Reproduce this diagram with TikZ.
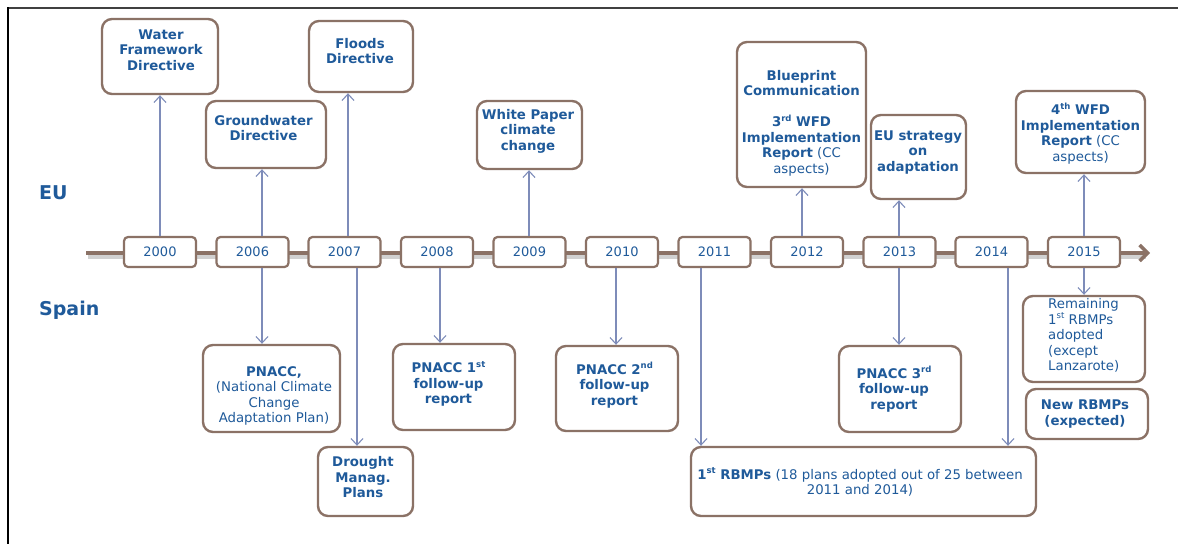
\documentclass[tikz,border=0pt]{standalone}
\usepackage{fontspec}
\setmainfont{DejaVu Sans}
\usetikzlibrary{arrows.meta}
\definecolor{txtblue}{HTML}{1F5A9A}
\definecolor{boxbrown}{HTML}{8B7266}
\definecolor{connblue}{HTML}{7E8CB9}
\newcommand\myup[1]{\raisebox{0.42em}{\fontsize{8.5}{8.5}\selectfont #1}}
\begin{document}
\begin{tikzpicture}[x=1pt,y=-1pt,
  evbox/.style={draw=boxbrown, line width=2.4pt, rounded corners=10pt, fill=white, inner sep=0pt},
  yrbox/.style={draw=boxbrown, line width=2.2pt, rounded corners=4pt, fill=white, minimum width=72pt, minimum height=30pt, inner sep=0pt, text=txtblue, font=\fontsize{13}{15.5}\selectfont},
  evtext/.style={text=txtblue, align=center, inner sep=0pt, font=\fontsize{13.3}{15.5}\selectfont},
  evbold/.style={evtext, font=\fontsize{13.3}{15.5}\selectfont\bfseries},
  side/.style={text=txtblue, inner sep=0pt, anchor=base west, font=\fontsize{19}{19}\selectfont\bfseries},
  conn/.style={draw=connblue, line width=1.1pt, -{Straight Barb[length=6.5pt,width=12pt]}},
  ]
\useasboundingbox (0,0) rectangle (1178,544);
% frame
\draw[line width=2pt, black!75] (7,7.5) -- (1178,7.5);
\draw[line width=2pt, black] (7.5,7) -- (7.5,544);

% timeline
\coordinate (tl0) at (86,253);
\coordinate (tl1) at (1150,253);
\coordinate (sh0) at (88,257);
\coordinate (sh1) at (1146,257);
\draw[line width=4pt, black!18] (sh0) -- (sh1);
\draw[line width=3.5pt, boxbrown, -{Straight Barb[length=8pt,width=16pt]}] (tl0) -- (tl1);

% side labels
\node[side] (eu) at (39,199) {EU};
\node[side] (spain) at (39,315) {Spain};

% event boxes (top)
\node[evbox, minimum width=116pt, minimum height=75pt] (wfd) at (160,56.5) {};
\node[evbold] (wfdt) at (161,50) {Water\\Framework\\Directive};
\node[evbox, minimum width=120pt, minimum height=67pt] (gw) at (266,134.5) {};
\node[evbold] (gwt) at (263.5,128) {Groundwater\\Directive};
\node[evbox, minimum width=104pt, minimum height=71pt] (fl) at (361,56.5) {};
\node[evbold] (flt) at (360,51) {Floods\\Directive};
\node[evbox, minimum width=105pt, minimum height=68pt] (wp) at (529.5,135) {};
\node[evbold] (wpt) at (528,131) {White Paper\\climate\\change};
\node[evbox, minimum width=129pt, minimum height=145pt] (bp) at (801.5,114.5) {};
\node[evtext] (bpt) at (801.5,123) {\textbf{Blueprint}\\\textbf{Communication}\\[15.5pt]\textbf{3\myup{rd} WFD}\\\textbf{Implementation}\\\textbf{Report} (CC\\aspects)};
\node[evbox, minimum width=95pt, minimum height=84pt] (eus) at (918.5,157) {};
\node[evbold] (eust) at (918,152.5) {EU strategy\\on\\adaptation};
\node[evbox, minimum width=129pt, minimum height=82pt] (w4) at (1080.5,132) {};
\node[evtext] (w4t) at (1080.5,133.5) {\textbf{4\myup{th} WFD}\\\textbf{Implementation}\\\textbf{Report} (CC\\aspects)};

% event boxes (bottom)
\node[evbox, minimum width=137pt, minimum height=87pt] (pn) at (271.5,388.5) {};
\node[evtext] (pnt) at (274,396) {\textbf{PNACC,}\\(National Climate\\Change\\Adaptation Plan)};
\node[evbox, minimum width=95pt, minimum height=69pt] (dr) at (365.5,481.5) {};
\node[evbold] (drt) at (363,477.5) {Drought\\Manag.\\Plans};
\node[evbox, minimum width=122pt, minimum height=86pt] (p1) at (454,387) {};
\node[evbold] (p1t) at (448.5,384) {PNACC 1\myup{st}\\follow-up\\report};
\node[evbox, minimum width=122pt, minimum height=85pt] (p2) at (617,388.5) {};
\node[evbold] (p2t) at (614.5,385) {PNACC 2\myup{nd}\\follow-up\\report};
\node[evbox, minimum width=345pt, minimum height=69pt] (rb) at (863.5,481.5) {};
\node[evtext] (rbt) at (860,482) {\textbf{1\myup{st} RBMPs} (18 plans adopted out of 25 between\\2011 and 2014)};
\node[evbox, minimum width=122pt, minimum height=86pt] (p3) at (900,389) {};
\node[evbold] (p3t) at (894,389) {PNACC 3\myup{rd}\\follow-up\\report};
\node[evbox, minimum width=122pt, minimum height=86pt] (rem) at (1084,339) {};
\node[evtext, align=left, anchor=west] (remt) at (1048,335.5) {Remaining\\1\myup{st} RBMPs\\adopted\\(except\\Lanzarote)};
\node[evbox, minimum width=122pt, minimum height=50pt] (nrb) at (1087,414) {};
\node[evbold] (nrbt) at (1085,414) {New RBMPs\\(expected)};

% year boxes positions (drawn after arrows)
\path (160,252) coordinate (p2000) (252.5,252) coordinate (p2006) (344.5,252) coordinate (p2007)
      (437,252) coordinate (p2008) (529.5,252) coordinate (p2009) (622,252) coordinate (p2010)
      (714.5,252) coordinate (p2011) (807,252) coordinate (p2012) (899.5,252) coordinate (p2013)
      (991.5,252) coordinate (p2014) (1084,252) coordinate (p2015);
\node[yrbox] (y2000) at (p2000) {2000};
\node[yrbox] (y2006) at (p2006) {2006};
\node[yrbox] (y2007) at (p2007) {2007};
\node[yrbox] (y2008) at (p2008) {2008};
\node[yrbox] (y2009) at (p2009) {2009};
\node[yrbox] (y2010) at (p2010) {2010};
\node[yrbox] (y2011) at (p2011) {2011};
\node[yrbox] (y2012) at (p2012) {2012};
\node[yrbox] (y2013) at (p2013) {2013};
\node[yrbox] (y2014) at (p2014) {2014};
\node[yrbox] (y2015) at (p2015) {2015};

% connector x positions
\coordinate (x00) at (160,0);
\coordinate (x06) at (262,0);
\coordinate (x07u) at (348,0);
\coordinate (x07d) at (357,0);
\coordinate (x08) at (440,0);
\coordinate (x09) at (529,0);
\coordinate (x10) at (616,0);
\coordinate (x11) at (701,0);
\coordinate (x12) at (802,0);
\coordinate (x13) at (899,0);
\coordinate (x14) at (1008,0);
\coordinate (x15) at (1084,0);

% up arrows
\draw[conn] (y2000.north -| x00) -- (wfd.south -| x00);
\draw[conn] (y2006.north -| x06) -- (gw.south -| x06);
\draw[conn] (y2007.north -| x07u) -- (fl.south -| x07u);
\draw[conn] (y2009.north -| x09) -- (wp.south -| x09);
\draw[conn] (y2012.north -| x12) -- (bp.south -| x12);
\draw[conn] (y2013.north -| x13) -- (eus.south -| x13);
\draw[conn] (y2015.north -| x15) -- (w4.south -| x15);
% down arrows
\draw[conn] (y2006.south -| x06) -- (pn.north -| x06);
\draw[conn] (y2007.south -| x07d) -- (dr.north -| x07d);
\draw[conn] (y2008.south -| x08) -- (p1.north -| x08);
\draw[conn] (y2010.south -| x10) -- (p2.north -| x10);
\draw[conn] (y2011.south -| x11) -- (rb.north -| x11);
\draw[conn] (y2013.south -| x13) -- (p3.north -| x13);
\draw[conn] (y2014.south -| x14) -- (rb.north -| x14);
\draw[conn] (y2015.south -| x15) -- (rem.north -| x15);
\end{tikzpicture}
\end{document}
